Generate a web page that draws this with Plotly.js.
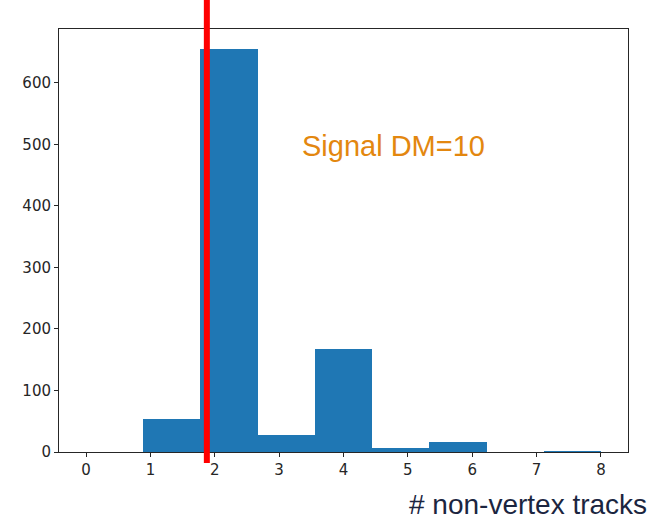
<!DOCTYPE html>
<html>
<head>
<meta charset="utf-8">
<script src="https://cdn.plot.ly/plotly-3.0.1.min.js"></script>
<style>html,body{margin:0;padding:0;background:#fff;}#chart{width:654px;height:520px;}</style>
</head>
<body>
<div id="chart"></div>
<script>
// Histogram of non-vertex tracks (9 bins from 0 to 8)
const binEdges = [0, 0.8889, 1.7778, 2.6667, 3.5556, 4.4444, 5.3333, 6.2222, 7.1111, 8];
const counts = [0, 54, 655, 27, 168, 6, 17, 0, 2];
const cutValue = [1.877];
const xTicks = [0, 1, 2, 3, 4, 5, 6, 7, 8];
const yTicks = [0, 100, 200, 300, 400, 500, 600];
const labelText = "Signal DM=10";
const axisLabel = "# non-vertex tracks";

const centers = counts.map((_, i) => (binEdges[i] + binEdges[i + 1]) / 2);
const widths = counts.map((_, i) => binEdges[i + 1] - binEdges[i]);

const trace = {
  type: 'bar',
  x: centers,
  y: counts,
  width: widths,
  marker: {color: '#1f77b4', line: {width: 0}},
  hoverinfo: 'x+y'
};

const layout = {
  width: 654, height: 520,
  margin: {l: 59, r: 26, t: 29, b: 68},
  paper_bgcolor: '#fff', plot_bgcolor: '#fff',
  showlegend: false,
  bargap: 0,
  font: {family: 'DejaVu Sans, sans-serif', size: 15, color: '#262626'},
  xaxis: {
    range: [-0.42, 8.42],
    tickvals: xTicks, ticktext: xTicks.map(String),
    ticks: 'outside', ticklen: 4, tickwidth: 1, tickcolor: '#262626',
    showline: true, linecolor: '#262626', linewidth: 1, mirror: true,
    showgrid: false, zeroline: false
  },
  yaxis: {
    range: [0, 687.75],
    tickvals: yTicks, ticktext: yTicks.map(String),
    ticks: 'outside', ticklen: 4, tickwidth: 1, tickcolor: '#262626',
    showline: true, linecolor: '#262626', linewidth: 1, mirror: true,
    showgrid: false, zeroline: false
  },
  shapes: [{
    type: 'line', xref: 'x', yref: 'paper',
    x0: cutValue[0], x1: cutValue[0], y0: -0.026, y1: 1.07,
    line: {color: '#ff0000', width: 6}, layer: 'above'
  }],
  annotations: [
    {
      text: labelText, xref: 'x', yref: 'y', x: 4.78, y: 497,
      showarrow: false, xanchor: 'center', yanchor: 'middle',
      font: {family: 'Liberation Sans, Arial, sans-serif', size: 29, color: '#e3870f'}
    },
    {
      text: axisLabel, xref: 'paper', yref: 'paper', x: 1.037, y: -0.082,
      showarrow: false, xanchor: 'right', yanchor: 'top',
      font: {family: 'Liberation Sans, Arial, sans-serif', size: 28, color: '#1b2540'}
    }
  ]
};

Plotly.newPlot('chart', [trace], layout, {displayModeBar: false, staticPlot: true});
</script>
</body>
</html>
